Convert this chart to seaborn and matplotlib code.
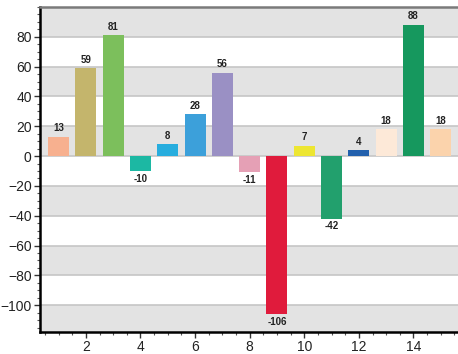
import matplotlib
matplotlib.use("Agg")
import matplotlib.pyplot as plt
import seaborn as sns
import pandas as pd
from matplotlib.ticker import MultipleLocator

positions = list(range(1, 16))
values = [13, 59, 81, -10, 8, 28, 56, -11, -106, 7, -42, 4, 18, 88, 18]
colors = ["#F7B08F", "#C4B56C", "#7CBF5C", "#1CB8A3", "#27ADDE", "#3CA0DA",
          "#9A90C4", "#E5A0B5", "#E01B3C", "#EDE632", "#22A06D", "#2260AD",
          "#FDE9D8", "#16985E", "#FBD3AC"]

df = pd.DataFrame({"x": positions, "y": values})

sns.set_style("white")
plt.rcParams["font.family"] = ["Liberation Sans", "DejaVu Sans"]

fig = plt.figure(figsize=(4.58, 3.54), dpi=100)
ax = fig.add_axes([40 / 458, 22 / 354, 418 / 458, 325 / 354])

ymin, ymax = -118, 100
edges = [-118, -100, -80, -60, -40, -20, 0, 20, 40, 60, 80, 100]
for i in range(len(edges) - 1):
    lo, hi = edges[i], edges[i + 1]
    if i % 2 == 0:
        ax.axhspan(lo, hi, color="#E3E3E3", zorder=0, lw=0)
for g in range(-100, 100, 20):
    ax.axhline(g, color="#C6C6C6", lw=1.2, zorder=0.5)

sns.barplot(data=df, x="x", y="y", hue="x", palette=colors, native_scale=True,
            width=0.77, legend=False, ax=ax, zorder=2, saturation=1, linewidth=0)

for xv, yv in zip(positions, values):
    if yv >= 0:
        ax.annotate(str(yv), (xv, yv), xytext=(0, 2.5), textcoords="offset points",
                    ha="center", va="bottom", fontsize=7, fontweight="bold", color="#222222")
    else:
        ax.annotate(str(yv), (xv, yv), xytext=(0, -2), textcoords="offset points",
                    ha="center", va="top", fontsize=7, fontweight="bold", color="#222222")

ax.set_xlim(0.32, 15.63)
ax.set_ylim(ymin, ymax)
ax.set_xlabel("")
ax.set_ylabel("")
ax.xaxis.set_major_locator(MultipleLocator(2))
ax.xaxis.set_minor_locator(MultipleLocator(0.5))
ax.yaxis.set_minor_locator(MultipleLocator(5))
ax.set_yticks(range(-100, 81, 20))
ax.tick_params(axis="both", which="major", length=4, width=1, color="#333333",
               labelsize=10, labelcolor="#222222", direction="out", bottom=True, left=True, pad=2)
ax.tick_params(axis="both", which="minor", length=2.5, width=0.8, color="#555555",
               direction="out", bottom=True, left=True)

for s in ["left", "bottom"]:
    ax.spines[s].set_color("black")
    ax.spines[s].set_linewidth(1.8)
ax.spines["top"].set_color("#7A7A7A")
ax.spines["top"].set_linewidth(1.8)
ax.spines["right"].set_visible(False)

fig.savefig("out.png", dpi=100)
